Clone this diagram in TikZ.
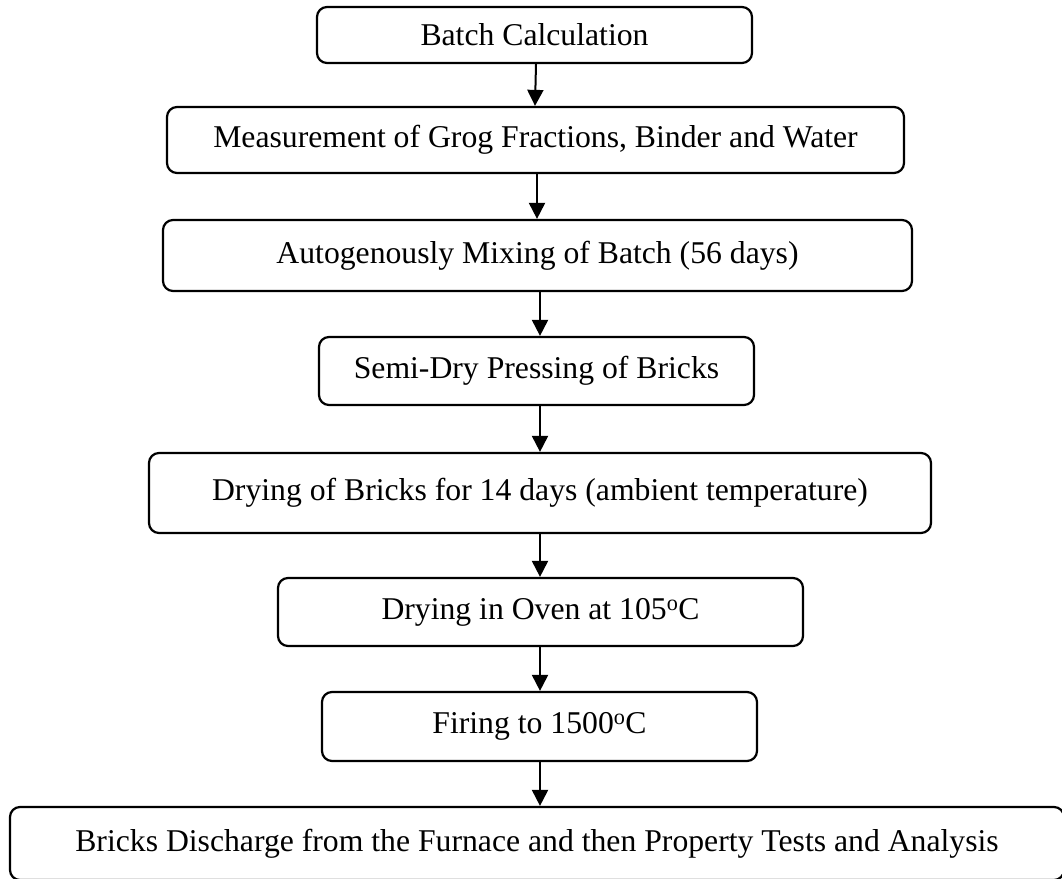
\documentclass[tikz,border=0pt]{standalone}
\usepackage{fontspec}
\setmainfont{Liberation Serif}
\usetikzlibrary{arrows.meta}
\begin{document}
\begin{tikzpicture}[x=1pt,y=1pt,
  box/.style={draw, line width=2.2pt, rounded corners=10pt, inner sep=0pt, align=center,
    font=\fontsize{31.7}{38}\selectfont},
  arr/.style={line width=2pt, -{Triangle[length=16pt,width=16pt]}}]
\useasboundingbox (0,0) rectangle (1062,878);
\clip (0,0) rectangle (1062,878);
\node[box, minimum width=435, minimum height=56] (b1) at (534.5,843) {Batch Calculation};
\node[box, minimum width=737, minimum height=66] (b2) at (535.5,738) {Measurement of Grog Fractions, Binder and Water};
\node[box, minimum width=749, minimum height=71] (b3) at (537.5,622.5) {Autogenously Mixing of Batch (56 days)};
\node[box, minimum width=435, minimum height=68] (b4) at (536.5,507) {Semi-Dry Pressing of Bricks};
\node[box, minimum width=782, minimum height=80] (b5) at (540,385) {Drying of Bricks for 14 days (ambient temperature)};
\node[box, minimum width=525, minimum height=68] (b6) at (540.5,266) {Drying in Oven at 105\textsuperscript{o}C};
\node[box, minimum width=435, minimum height=69] (b7) at (539.5,151.5) {Firing to 1500\textsuperscript{o}C};
\node[box, minimum width=1054, minimum height=73] (b8) at (537,34.5) {Bricks Discharge from the Furnace and then Property Tests and Analysis};
\draw[arr] (536,0 |- b1.south) -- (535,0 |- b2.north);
\draw[arr] (537,0 |- b2.south) -- (537,0 |- b3.north);
\draw[arr] (540,0 |- b3.south) -- (540,0 |- b4.north);
\draw[arr] (540,0 |- b4.south) -- (540,0 |- b5.north);
\draw[arr] (540,0 |- b5.south) -- (540,0 |- b6.north);
\draw[arr] (540,0 |- b6.south) -- (540,0 |- b7.north);
\draw[arr] (540,0 |- b7.south) -- (540,0 |- b8.north);
\end{tikzpicture}
\end{document}
